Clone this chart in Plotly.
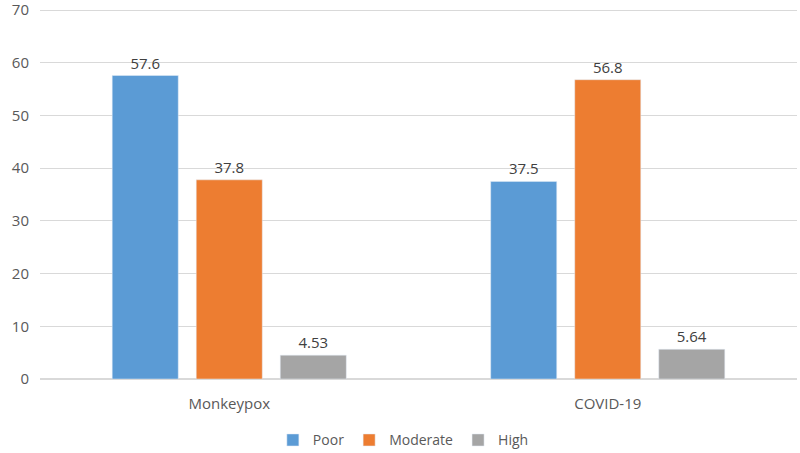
import plotly.graph_objects as go

categories = ["Monkeypox", "COVID-19"]
series_names = ["Poor", "Moderate", "High"]
poor = [57.6, 37.5]
moderate = [37.8, 56.8]
high = [4.53, 5.64]
colors = ["#5B9BD5", "#ED7D31", "#A5A5A5"]

fig = go.Figure()
for name, vals, c in zip(series_names, [poor, moderate, high], colors):
    fig.add_trace(go.Bar(
        x=categories, y=vals, name=name, marker_color=c,
        text=[f"{v:g}" for v in vals], textposition="outside",
        textfont=dict(size=15, color="#404040"), cliponaxis=False,
    ))

fig.update_layout(
    width=800, height=453,
    margin=dict(l=40, r=3, t=7, b=74, autoexpand=False),
    paper_bgcolor="white", plot_bgcolor="white",
    font=dict(family="Open Sans, Noto Sans, sans-serif", size=14, color="#595959"),
    barmode="group", bargap=0.334, bargroupgap=0.214,
    legend=dict(orientation="h", x=0.48, xanchor="center", y=-0.165, yanchor="middle",
                font=dict(size=14, color="#595959"), itemwidth=30),
    showlegend=True,
)
fig.update_yaxes(range=[0, 70.6], tickvals=[0, 10, 20, 30, 40, 50, 60, 70],
                 showgrid=True, gridcolor="#D9D9D9", automargin=False,
                 gridwidth=1, zeroline=True, zerolinecolor="#D9D9D9",
                 ticks="", ticklabelstandoff=10, tickfont=dict(size=15),
                 ticklabeloverflow="allow")
fig.update_xaxes(showline=False, ticks="", tickfont=dict(size=15), automargin=False,
                 ticklabelstandoff=14)

fig.write_html("out.html")
